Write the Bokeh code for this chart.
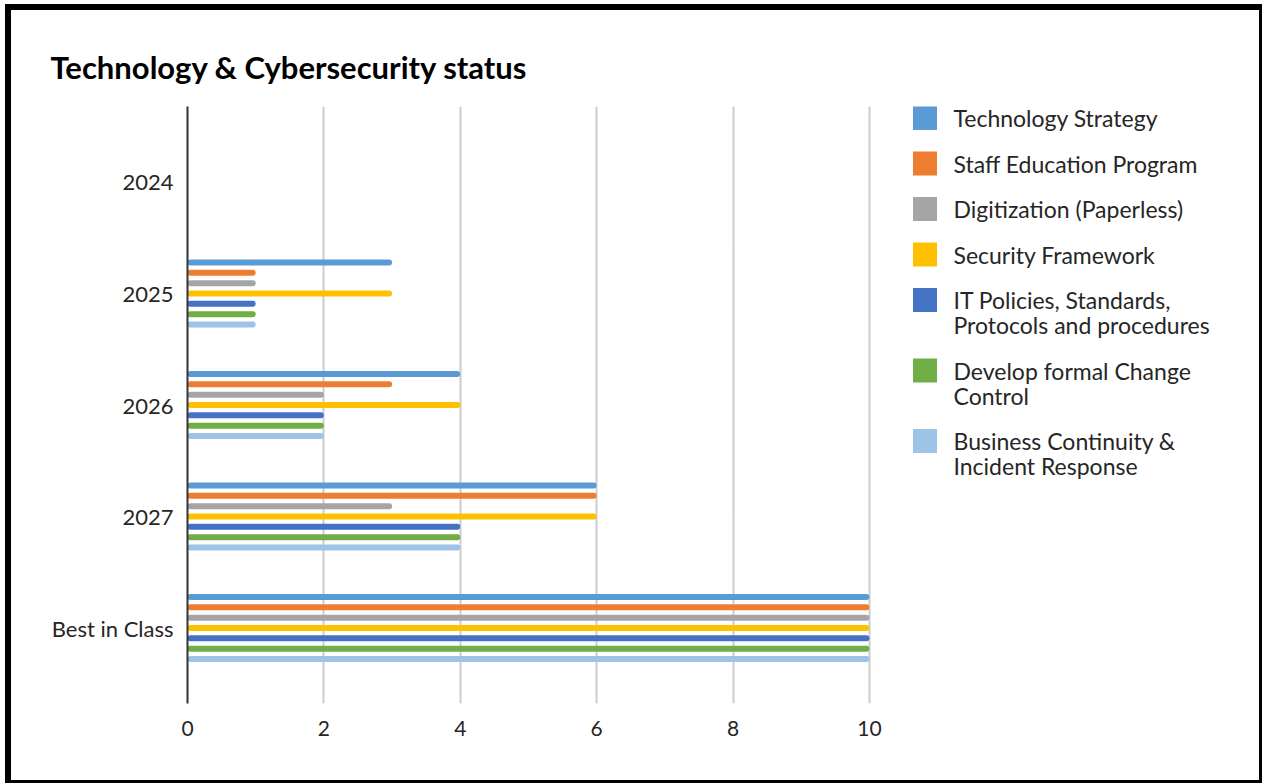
from bokeh.plotting import figure
from bokeh.models import FactorRange, Range1d, FixedTicker, ColumnDataSource
from bokeh.transform import dodge
from bokeh.layouts import row
from bokeh.embed import file_html
from bokeh.resources import INLINE
from bokeh.core.properties import value

# Maturity levels per initiative and year (0-10 scale)
categories = ["2024", "2025", "2026", "2027", "Best in Class"]
technology_strategy = [0, 3, 4, 6, 10]
staff_education_program = [0, 1, 3, 6, 10]
digitization = [0, 1, 2, 3, 10]
security_framework = [0, 3, 4, 6, 10]
it_policies = [0, 1, 2, 4, 10]
change_control = [0, 1, 2, 4, 10]
business_continuity = [0, 1, 2, 4, 10]

series_names = [
    "Technology Strategy",
    "Staff Education Program",
    "Digitization (Paperless)",
    "Security Framework",
    "IT Policies, Standards,\nProtocols and procedures",
    "Develop formal Change\nControl",
    "Business Continuity &\nIncident Response",
]
series_values = [
    technology_strategy,
    staff_education_program,
    digitization,
    security_framework,
    it_policies,
    change_control,
    business_continuity,
]
series_colors = ["#5B9BD5", "#ED7D31", "#A5A5A5", "#FFC000", "#4472C4", "#70AD47", "#9DC3E6"]
x_ticks = [0, 2, 4, 6, 8, 10]

FONT = "Lato"
TEXT = "#262626"

BORDER_TOP, BORDER_BOTTOM = 96, 77

p = figure(
    width=893, height=770,
    y_range=FactorRange(factors=list(reversed(categories)),
                        range_padding=0.177, range_padding_units="absolute"),
    x_range=Range1d(0, 10.06),
    output_backend="svg", toolbar_location=None,
    min_border_left=176, min_border_right=31,
    min_border_top=BORDER_TOP, min_border_bottom=BORDER_BOTTOM,
)
p.outline_line_color = None
p.background_fill_color = "white"
p.border_fill_color = "white"

p.title.text = "Technology & Cybersecurity status"
p.title.text_font = FONT
p.title.text_font_size = "31px"
p.title.text_font_style = "bold"
p.title.text_color = "#000000"
p.title.align = "left"
p.title.offset = -137
p.title.standoff = 42

step = 0.0927
bar_h = 0.054
n = len(series_values)
for i, (vals, col) in enumerate(zip(series_values, series_colors)):
    src = ColumnDataSource(dict(y=categories, x=vals))
    off = (n - 1) / 2 * step - i * step
    p.hbar(y=dodge("y", off, range=p.y_range), left=0, right="x", height=bar_h,
           source=src, fill_color=col, line_color=None, border_radius=3)

p.xaxis.ticker = FixedTicker(ticks=x_ticks)
p.xaxis.axis_line_color = None
p.xaxis.major_tick_line_color = None
p.xaxis.minor_tick_line_color = None
p.xaxis.major_label_standoff = 11
p.xaxis.major_label_text_font = FONT
p.xaxis.major_label_text_font_size = "21px"
p.xaxis.major_label_text_color = TEXT

p.yaxis.axis_line_color = "#333333"
p.yaxis.axis_line_width = 2
p.yaxis.major_tick_line_color = None
p.yaxis.minor_tick_line_color = None
p.yaxis.major_label_standoff = 8
p.yaxis.major_label_text_font = FONT
p.yaxis.major_label_text_font_size = "22px"
p.yaxis.major_label_text_color = TEXT

p.xgrid.ticker = FixedTicker(ticks=x_ticks[1:])
p.xgrid.grid_line_color = "#cccccc"
p.xgrid.grid_line_width = 2
p.ygrid.grid_line_color = None

# Legend panel; its frame lines up with the chart frame, ranges in page pixels
leg = figure(width=355, height=770, x_range=Range1d(904, 1259), y_range=Range1d(703, 106),
             output_backend="svg", toolbar_location=None,
             min_border_left=0, min_border_right=0,
             min_border_top=BORDER_TOP, min_border_bottom=BORDER_BOTTOM)
leg.axis.visible = False
leg.grid.grid_line_color = None
leg.outline_line_color = None
leg.border_fill_color = "white"

first_y = 117.5
single_gap = 45.5
line_gap = 25
sq_x, txt_x = 924.5, 953
sq_y, tx, ty, tt = [], [], [], []
y = first_y
for name in series_names:
    lines = name.split("\n")
    sq_y.append(y)
    for k, ln in enumerate(lines):
        tx.append(txt_x)
        ty.append(y + k * line_gap)
        tt.append(ln)
    y += single_gap + line_gap * (len(lines) - 1)

leg.scatter(x=[sq_x] * n, y=sq_y, marker="square", size=24, fill_color=series_colors,
            line_color=None)
leg.text(x=tx, y=ty, text=tt, text_font=value(FONT), text_font_size="23px",
         text_color=TEXT, text_baseline="middle", text_align="left")

layout = row(p, leg, styles={
    "border-style": "solid", "border-color": "#000",
    "border-width": "6px 3px 3px 6px", "margin": "4px 0 0 5px",
})

with open("out.html", "w") as f:
    f.write(file_html(layout, INLINE))
